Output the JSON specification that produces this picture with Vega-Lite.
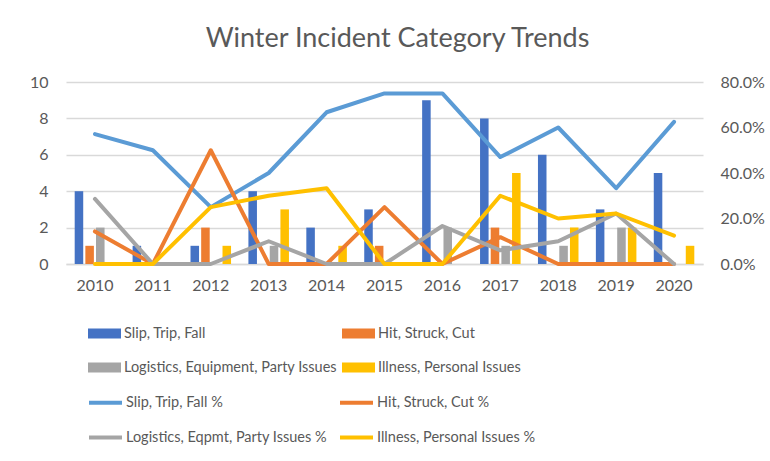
{
  "$schema": "https://vega.github.io/schema/vega-lite/v6.json",
  "width": 637,
  "height": 182,
  "autosize": {"type": "none"},
  "padding": {"left": 66, "top": 82, "right": 67, "bottom": 197},
  "background": "white",
  "config": {"view": {"stroke": null}, "font": "Lato"},
  "title": {"text": "Winter Incident Category Trends", "fontSize": 27, "font": "Lato", "color": "#595959", "fontWeight": "normal", "anchor": "middle", "dx": 13, "offset": 21},
  "datasets": {
    "bars": [
      {"year": "2010", "cat": "Slip, Trip, Fall", "count": 4},
      {"year": "2010", "cat": "Hit, Struck, Cut", "count": 1},
      {"year": "2010", "cat": "Logistics, Equipment, Party Issues", "count": 2},
      {"year": "2010", "cat": "Illness, Personal Issues", "count": 0},
      {"year": "2011", "cat": "Slip, Trip, Fall", "count": 1},
      {"year": "2011", "cat": "Hit, Struck, Cut", "count": 0},
      {"year": "2011", "cat": "Logistics, Equipment, Party Issues", "count": 0},
      {"year": "2011", "cat": "Illness, Personal Issues", "count": 0},
      {"year": "2012", "cat": "Slip, Trip, Fall", "count": 1},
      {"year": "2012", "cat": "Hit, Struck, Cut", "count": 2},
      {"year": "2012", "cat": "Logistics, Equipment, Party Issues", "count": 0},
      {"year": "2012", "cat": "Illness, Personal Issues", "count": 1},
      {"year": "2013", "cat": "Slip, Trip, Fall", "count": 4},
      {"year": "2013", "cat": "Hit, Struck, Cut", "count": 0},
      {"year": "2013", "cat": "Logistics, Equipment, Party Issues", "count": 1},
      {"year": "2013", "cat": "Illness, Personal Issues", "count": 3},
      {"year": "2014", "cat": "Slip, Trip, Fall", "count": 2},
      {"year": "2014", "cat": "Hit, Struck, Cut", "count": 0},
      {"year": "2014", "cat": "Logistics, Equipment, Party Issues", "count": 0},
      {"year": "2014", "cat": "Illness, Personal Issues", "count": 1},
      {"year": "2015", "cat": "Slip, Trip, Fall", "count": 3},
      {"year": "2015", "cat": "Hit, Struck, Cut", "count": 1},
      {"year": "2015", "cat": "Logistics, Equipment, Party Issues", "count": 0},
      {"year": "2015", "cat": "Illness, Personal Issues", "count": 0},
      {"year": "2016", "cat": "Slip, Trip, Fall", "count": 9},
      {"year": "2016", "cat": "Hit, Struck, Cut", "count": 0},
      {"year": "2016", "cat": "Logistics, Equipment, Party Issues", "count": 2},
      {"year": "2016", "cat": "Illness, Personal Issues", "count": 0},
      {"year": "2017", "cat": "Slip, Trip, Fall", "count": 8},
      {"year": "2017", "cat": "Hit, Struck, Cut", "count": 2},
      {"year": "2017", "cat": "Logistics, Equipment, Party Issues", "count": 1},
      {"year": "2017", "cat": "Illness, Personal Issues", "count": 5},
      {"year": "2018", "cat": "Slip, Trip, Fall", "count": 6},
      {"year": "2018", "cat": "Hit, Struck, Cut", "count": 0},
      {"year": "2018", "cat": "Logistics, Equipment, Party Issues", "count": 1},
      {"year": "2018", "cat": "Illness, Personal Issues", "count": 2},
      {"year": "2019", "cat": "Slip, Trip, Fall", "count": 3},
      {"year": "2019", "cat": "Hit, Struck, Cut", "count": 0},
      {"year": "2019", "cat": "Logistics, Equipment, Party Issues", "count": 2},
      {"year": "2019", "cat": "Illness, Personal Issues", "count": 2},
      {"year": "2020", "cat": "Slip, Trip, Fall", "count": 5},
      {"year": "2020", "cat": "Hit, Struck, Cut", "count": 0},
      {"year": "2020", "cat": "Logistics, Equipment, Party Issues", "count": 0},
      {"year": "2020", "cat": "Illness, Personal Issues", "count": 1}
    ],
    "lines": [
      {"year": "2010", "cat": "Slip, Trip, Fall %", "pct": 0.571},
      {"year": "2011", "cat": "Slip, Trip, Fall %", "pct": 0.5},
      {"year": "2012", "cat": "Slip, Trip, Fall %", "pct": 0.25},
      {"year": "2013", "cat": "Slip, Trip, Fall %", "pct": 0.4},
      {"year": "2014", "cat": "Slip, Trip, Fall %", "pct": 0.667},
      {"year": "2015", "cat": "Slip, Trip, Fall %", "pct": 0.75},
      {"year": "2016", "cat": "Slip, Trip, Fall %", "pct": 0.75},
      {"year": "2017", "cat": "Slip, Trip, Fall %", "pct": 0.47},
      {"year": "2018", "cat": "Slip, Trip, Fall %", "pct": 0.6},
      {"year": "2019", "cat": "Slip, Trip, Fall %", "pct": 0.333},
      {"year": "2020", "cat": "Slip, Trip, Fall %", "pct": 0.625},
      {"year": "2010", "cat": "Hit, Struck, Cut %", "pct": 0.143},
      {"year": "2011", "cat": "Hit, Struck, Cut %", "pct": 0},
      {"year": "2012", "cat": "Hit, Struck, Cut %", "pct": 0.5},
      {"year": "2013", "cat": "Hit, Struck, Cut %", "pct": 0},
      {"year": "2014", "cat": "Hit, Struck, Cut %", "pct": 0},
      {"year": "2015", "cat": "Hit, Struck, Cut %", "pct": 0.25},
      {"year": "2016", "cat": "Hit, Struck, Cut %", "pct": 0},
      {"year": "2017", "cat": "Hit, Struck, Cut %", "pct": 0.118},
      {"year": "2018", "cat": "Hit, Struck, Cut %", "pct": 0},
      {"year": "2019", "cat": "Hit, Struck, Cut %", "pct": 0},
      {"year": "2020", "cat": "Hit, Struck, Cut %", "pct": 0},
      {"year": "2010", "cat": "Logistics, Eqpmt, Party Issues %", "pct": 0.286},
      {"year": "2011", "cat": "Logistics, Eqpmt, Party Issues %", "pct": 0},
      {"year": "2012", "cat": "Logistics, Eqpmt, Party Issues %", "pct": 0},
      {"year": "2013", "cat": "Logistics, Eqpmt, Party Issues %", "pct": 0.1},
      {"year": "2014", "cat": "Logistics, Eqpmt, Party Issues %", "pct": 0},
      {"year": "2015", "cat": "Logistics, Eqpmt, Party Issues %", "pct": 0},
      {"year": "2016", "cat": "Logistics, Eqpmt, Party Issues %", "pct": 0.167},
      {"year": "2017", "cat": "Logistics, Eqpmt, Party Issues %", "pct": 0.06},
      {"year": "2018", "cat": "Logistics, Eqpmt, Party Issues %", "pct": 0.1},
      {"year": "2019", "cat": "Logistics, Eqpmt, Party Issues %", "pct": 0.222},
      {"year": "2020", "cat": "Logistics, Eqpmt, Party Issues %", "pct": 0},
      {"year": "2010", "cat": "Illness, Personal Issues %", "pct": 0},
      {"year": "2011", "cat": "Illness, Personal Issues %", "pct": 0},
      {"year": "2012", "cat": "Illness, Personal Issues %", "pct": 0.25},
      {"year": "2013", "cat": "Illness, Personal Issues %", "pct": 0.3},
      {"year": "2014", "cat": "Illness, Personal Issues %", "pct": 0.333},
      {"year": "2015", "cat": "Illness, Personal Issues %", "pct": 0},
      {"year": "2016", "cat": "Illness, Personal Issues %", "pct": 0},
      {"year": "2017", "cat": "Illness, Personal Issues %", "pct": 0.3},
      {"year": "2018", "cat": "Illness, Personal Issues %", "pct": 0.2},
      {"year": "2019", "cat": "Illness, Personal Issues %", "pct": 0.222},
      {"year": "2020", "cat": "Illness, Personal Issues %", "pct": 0.125}
    ]
  },
  "layer": [
    {
      "data": {"name": "bars"},
      "mark": {"type": "bar"},
      "encoding": {
        "x": {
          "field": "year", "type": "ordinal",
          "scale": {"paddingInner": 0.3, "paddingOuter": 0.15},
          "axis": {"title": null, "labelAngle": 0, "ticks": false, "domain": true, "domainColor": "#D9D9D9", "domainWidth": 1.3, "labelPadding": 13, "labelFont": "Lato", "labelFontSize": 16, "labelColor": "#595959"}
        },
        "xOffset": {
          "field": "cat", "type": "nominal",
          "scale": {"domain": ["Slip, Trip, Fall", "Hit, Struck, Cut", "Logistics, Equipment, Party Issues", "Illness, Personal Issues"], "paddingInner": 0.2}
        },
        "y": {
          "field": "count", "type": "quantitative",
          "scale": {"domain": [0, 10], "nice": false},
          "axis": {"title": null, "values": [0, 2, 4, 6, 8, 10], "ticks": false, "domain": false, "gridColor": "#D9D9D9", "gridWidth": 1.3, "labelPadding": 18, "labelFont": "Lato", "labelFontSize": 16, "labelColor": "#595959"}
        },
        "fill": {
          "field": "cat", "type": "nominal",
          "scale": {
            "domain": ["Slip, Trip, Fall", "Logistics, Equipment, Party Issues", "Hit, Struck, Cut", "Illness, Personal Issues"],
            "range": ["#4472C4", "#A5A5A5", "#ED7D31", "#FFC000"]
          },
          "legend": {
            "orient": "none", "legendX": 22, "legendY": 235,
            "columns": 2, "columnPadding": 5, "rowPadding": 11, "title": null,
            "symbolType": "M-1,-0.3H1V0.3H-1Z", "symbolSize": 1089, "symbolStrokeWidth": 0,
            "labelFont": "Lato", "labelFontSize": 14.5, "labelColor": "#595959", "labelOffset": 3, "labelLimit": 400
          }
        }
      }
    },
    {
      "data": {"name": "lines"},
      "mark": {"type": "line", "strokeWidth": 4, "strokeCap": "round", "strokeJoin": "round"},
      "encoding": {
        "x": {"field": "year", "type": "ordinal"},
        "y": {
          "field": "pct", "type": "quantitative",
          "scale": {"domain": [0, 0.8], "nice": false},
          "axis": {"orient": "right", "title": null, "format": ".1%", "values": [0, 0.2, 0.4, 0.6, 0.8], "grid": false, "ticks": false, "domain": false, "labelPadding": 17, "labelFont": "Lato", "labelFontSize": 16, "labelColor": "#595959"}
        },
        "stroke": {
          "field": "cat", "type": "nominal",
          "scale": {
            "domain": ["Slip, Trip, Fall %", "Logistics, Eqpmt, Party Issues %", "Hit, Struck, Cut %", "Illness, Personal Issues %"],
            "range": ["#5B9BD5", "#A5A5A5", "#ED7D31", "#FFC000"]
          },
          "legend": {
            "orient": "none", "legendX": 21, "legendY": 302,
            "columns": 2, "columnPadding": 5, "rowPadding": 8, "title": null,
            "symbolType": "stroke", "symbolSize": 1089, "symbolStrokeWidth": 4,
            "labelFont": "Lato", "labelFontSize": 14.5, "labelColor": "#595959", "labelOffset": 2, "labelLimit": 400
          }
        }
      }
    }
  ],
  "resolve": {"scale": {"y": "independent"}}
}
